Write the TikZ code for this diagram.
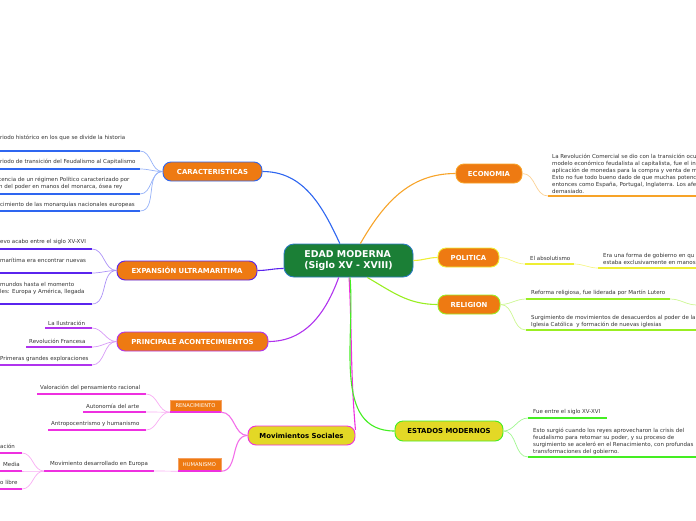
\documentclass[tikz,border=0pt]{standalone}
\usepackage{fontspec}
\setmainfont{DejaVu Sans}
\usepackage{tikz}
\usetikzlibrary{positioning}

\definecolor{boxorange}{HTML}{EE7A12}
\definecolor{subline}{HTML}{F5A060}
\definecolor{centergreen}{HTML}{1B7F36}
\definecolor{centerblue}{HTML}{2A7BC0}
\definecolor{boxyellow}{HTML}{E3D826}
\definecolor{cblue}{HTML}{2E66F0}
\definecolor{cindigo}{HTML}{5A24EE}
\definecolor{cviolet}{HTML}{B033EE}
\definecolor{cmagenta}{HTML}{EE30E0}
\definecolor{corange}{HTML}{F7A328}
\definecolor{cyellow}{HTML}{EEEE33}
\definecolor{clime}{HTML}{99EE22}
\definecolor{cgreen}{HTML}{44EE22}
\definecolor{leafgray}{HTML}{333333}

\tikzset{
  central/.style={rounded corners=10pt, fill=centergreen, draw=centerblue, line width=0.9pt,
    text=white, align=left, font=\fontsize{9.4}{11}\selectfont\bfseries,
    minimum width=129pt, minimum height=33pt, inner sep=0pt},
  topic/.style={rounded corners=8pt, fill=boxorange, line width=0.9pt, text=white,
    font=\fontsize{6.9}{8}\selectfont\bfseries, minimum height=19pt, inner sep=0pt},
  topicy/.style={topic, fill=boxyellow, text=black},
  subtopic/.style={fill=boxorange, draw=subline, line width=0.4pt, text=white,
    font=\fontsize{5.2}{6}\selectfont, inner sep=0pt},
  leaf/.style={anchor=west, inner sep=0pt, align=left, text=leafgray,
    font=\fontsize{5.5}{7}\selectfont},
  branch/.style={line width=1.1pt},
  uline/.style={line width=1.6pt},
  link/.style={line width=0.7pt}
}

\begin{document}
\begin{tikzpicture}[x=1pt, y=1pt]
\useasboundingbox (0,0) rectangle (696,-520);
\clip (0,0) rectangle (696,-520);

% central topic
\node[central] (edad) at (348.5,-260.5) {EDAD MODERNA\\(Siglo XV - XVIII)};

% main topics
\node[topic, draw=cblue, minimum width=99pt] (car) at (212.5,-171.5) {CARACTERISTICAS};
\node[topic, draw=cindigo, minimum width=140pt] (exp) at (187,-270.5) {EXPANSIÓN ULTRAMARITIMA};
\node[topic, draw=cviolet, minimum width=151pt] (acon) at (192.5,-341.5) {PRINCIPALE ACONTECIMIENTOS};
\node[topicy, draw=cmagenta, minimum width=107pt] (mov) at (301.5,-435.5) {Movimientos Sociales};
\node[topic, draw=corange, minimum width=66pt] (eco) at (489,-173.5) {ECONOMIA};
\node[topic, draw=cyellow, minimum width=61pt] (pol) at (468.5,-257.5) {POLITICA};
\node[topic, draw=clime, minimum width=62pt] (rel) at (469,-304.5) {RELIGION};
\node[topicy, draw=cgreen, minimum width=108pt, minimum height=20pt] (est) at (449,-431) {ESTADOS MODERNOS};
\node[subtopic, minimum width=51pt, minimum height=12pt] (ren) at (195.5,-406) {RENACIMIENTO};
\node[subtopic, minimum width=43pt, minimum height=13pt] (hum) at (199.5,-464.5) {HUMANISMO};

% branches from the centre
\draw[branch, cblue] (edad.117) to[out=115, in=0] (car.east);
\draw[branch, cindigo] (edad.187) to[out=180, in=0] (exp.east);
\draw[branch, cviolet] (edad.-120) to[out=-110, in=0] (acon.east);
\draw[branch, cmagenta] (edad.-88) to[out=-87, in=95] (mov.6);
\draw[branch, corange] (edad.55) to[out=60, in=180] (eco.west);
\draw[branch, cyellow] (edad.east) to[out=0, in=180] (pol.west);
\draw[branch, clime] (edad.-42) to[out=-30, in=180] (rel.west);
\draw[branch, cgreen] (edad.-85) to[out=-85, in=180] (est.west);
\draw[branch, cmagenta!70] (mov.west) to[out=180, in=0] (ren.south east);
\draw[branch, cmagenta!70] (mov.west) to[out=180, in=0] (hum.south east);
\draw[uline, cmagenta] (ren.south west) -- (ren.south east);
\draw[uline, cmagenta] (hum.south west) -- (hum.south east);

% caracteristicas
\node[leaf] (c1) at (0,-138) {riodo histórico en los que se divide la historia};
\node[leaf] (c2) at (0,-162) {riodo de transición del Feudalismo al Capitalismo};
\node[leaf] (c3) at (-1,-183.5) {tencia de un régimen Político caracterizado por\\n del poder en manos del monarca, ósea rey};
\node[leaf] (c4) at (0,-205) {cimiento de las monarquías nacionales europeas};
\foreach \n/\y in {1/151, 2/169, 3/194, 4/211} {
  \coordinate (cs\n) at (0,-\y);
  \coordinate (ce\n) at (140,-\y);
  \draw[uline, cblue] (cs\n) -- (ce\n);
  \draw[link, cblue!50] (car.west) to[out=180, in=0] (ce\n);
}

% expansion ultramaritima
\node[leaf] (e1) at (0,-242) {evo acabo entre el siglo XV-XVI};
\node[leaf] (e2) at (0,-260.5) {marítima era encontrar nuevas};
\node[leaf] (e3) at (0,-288) {mundos hasta el momento\\les: Europa y América, llegada};
\foreach \n/\y in {1/249, 2/273, 3/304} {
  \coordinate (es\n) at (0,-\y);
  \coordinate (ee\n) at (92,-\y);
  \draw[uline, cindigo] (es\n) -- (ee\n);
  \draw[link, cindigo!50] (exp.west) to[out=180, in=0] (ee\n);
}

% acontecimientos
\node[leaf] (a1) at (48,-323) {La Ilustración};
\node[leaf] (a2) at (29,-341) {Revolución Francesa};
\node[leaf] (a3) at (0,-359) {Primeras grandes exploraciones};
\foreach \n/\x/\y in {1/45/328, 2/26/347, 3/0/365} {
  \coordinate (as\n) at (\x,-\y);
  \coordinate (ae\n) at (92,-\y);
  \draw[uline, cviolet] (as\n) -- (ae\n);
  \draw[link, cviolet!50] (acon.west) to[out=180, in=0] (ae\n);
}

% renacimiento
\node[leaf] (r1) at (40,-388) {Valoración del pensamiento racional};
\node[leaf] (r2) at (86,-406) {Autonomía del arte};
\node[leaf] (r3) at (51,-424) {Antropocentrismo y humanismo};
\foreach \n/\x/\y in {1/37/394, 2/83/412, 3/48/430} {
  \coordinate (rs\n) at (\x,-\y);
  \coordinate (re\n) at (146,-\y);
  \draw[uline, cmagenta] (rs\n) -- (re\n);
  \draw[link, cmagenta!40] (ren.south west) to[out=180, in=0] (re\n);
}

% humanismo
\node[leaf] (h1) at (50,-464) {Movimiento desarrollado en Europa};
\coordinate (hs) at (44,-471);
\coordinate (he) at (154,-471);
\draw[uline, cmagenta] (hs) -- (he);
\draw[link, cmagenta!40] (hum.south west) -- (he);
\node[leaf] (hh1) at (0,-446) {ación};
\node[leaf] (hh2) at (3,-464) {Media};
\node[leaf] (hh3) at (0,-482) {o libre};
\foreach \n/\y in {1/453, 2/471, 3/489} {
  \coordinate (hhs\n) at (0,-\y);
  \coordinate (hhe\n) at (22,-\y);
  \draw[uline, cmagenta] (hhs\n) -- (hhe\n);
  \draw[link, cmagenta!40] (hs) to[out=180, in=0] (hhe\n);
}

% economia
\node[leaf] (eco1) at (552,-173.5) {La Revolución Comercial se dio con la transición ocu\\modelo económico feudalista al capitalista, fue el in\\aplicación de monedas para la compra y venta de m\\Esto no fue todo bueno dado de que muchas potenc\\entonces como España, Portugal, Inglaterra. Los afe\\demasiado.};
\coordinate (ecos) at (548,-196);
\coordinate (ecoe) at (697,-196);
\draw[uline, corange] (ecos) -- (ecoe);
\draw[link, corange!50] (eco.east) to[out=0, in=180] (ecos);

% politica
\node[leaf] (p1) at (530,-258) {El absolutismo};
\node[leaf] (p2) at (603,-258.5) {Era una forma de gobierno en qu\\estaba exclusivamente en manos};
\coordinate (p1s) at (525,-264);
\coordinate (p1e) at (574,-264);
\coordinate (p2s) at (598,-268);
\coordinate (p2e) at (697,-268);
\draw[uline, cyellow] (p1s) -- (p1e);
\draw[uline, cyellow] (p2s) -- (p2e);
\draw[link, cyellow!60] (pol.east) to[out=0, in=180] (p1s);
\draw[link, cyellow!60] (p1e) to[out=0, in=180] (p2s);

% religion
\node[leaf] (rl1) at (531,-293) {Reforma religiosa, fue liderada por Martín Lutero};
\node[leaf] (rl2) at (531,-321.5) {Surgimiento de movimientos de desacuerdos al poder de la\\Iglesia Católica\ \ y formación de nuevas iglesias};
\coordinate (rl1s) at (526,-299);
\coordinate (rl1e) at (670,-299);
\coordinate (rl2s) at (526,-330);
\coordinate (rl2e) at (697,-330);
\coordinate (rlx) at (697,-305);
\draw[uline, clime] (rl1s) -- (rl1e);
\draw[uline, clime] (rl2s) -- (rl2e);
\draw[link, clime!50] (rel.east) to[out=0, in=180] (rl1s);
\draw[link, clime!50] (rel.east) to[out=0, in=180] (rl2s);
\draw[link, clime!50] (rl1e) to[out=0, in=180] (rlx);

% estados modernos
\node[leaf] (es1) at (533,-412) {Fue entre el siglo XV-XVI};
\node[leaf] (es2) at (533,-441) {Esto surgió cuando los reyes aprovecharon la crisis del\\feudalismo para retomar su poder, y su proceso de\\surgimiento se aceleró en el Renacimiento, con profundas\\transformaciones del gobierno.};
\coordinate (es1s) at (528,-418);
\coordinate (es1e) at (607,-418);
\coordinate (es2s) at (528,-457);
\coordinate (es2e) at (697,-457);
\draw[uline, cgreen] (es1s) -- (es1e);
\draw[uline, cgreen] (es2s) -- (es2e);
\draw[link, cgreen!50] (est.east) to[out=0, in=180] (es1s);
\draw[link, cgreen!50] (est.east) to[out=0, in=180] (es2s);
\end{tikzpicture}
\end{document}
